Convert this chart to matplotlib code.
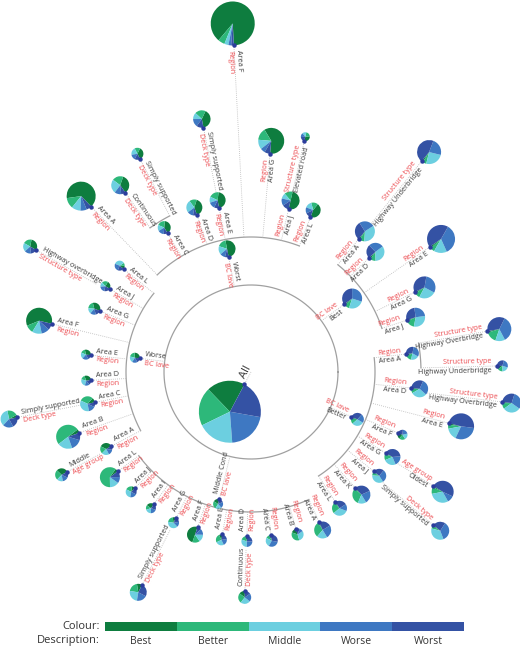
import numpy as np
import matplotlib.pyplot as plt

plt.rcParams['font.family'] = ['Open Sans', 'DejaVu Sans']

# ---- data -------------------------------------------------------------
class_names = ['Best', 'Better', 'Middle', 'Worse', 'Worst']
class_colors = ['#0e7d3f', '#2db87a', '#6ccfe0', '#3e78c2', '#3452a4']

labels = ['All',
          'Worst', 'Worse', 'Middle Cond', 'Better', 'Best',
          # under Worst
          'Area A', 'Area C', 'Continuous', 'Simply supported', 'Area D', 'Area E',
          'Simply supported', 'Area F', 'Area G', 'Area J', 'Elevated road', 'Area L',
          # under Worse
          'Area L', 'Area J', 'Highway overbridge', 'Area G', 'Area F', 'Area E',
          'Area D', 'Area C', 'Simply supported', 'Area B', 'Area A', 'Middle',
          # under Middle Cond
          'Area L', 'Area J', 'Area I', 'Area G', 'Simply supported', 'Area F',
          'Area E', 'Area D', 'Continuous', 'Area C', 'Area B', 'Area A',
          # under Better
          'Area A', 'Highway Overbridge', 'Highway Underbridge', 'Area D',
          'Highway Overbridge', 'Area E', 'Area F', 'Area G', 'Oldest', 'Area J',
          'Simply supported', 'Area K', 'Area L',
          # under Best
          'Area A', 'Highway Underbridge', 'Area D', 'Area E', 'Area G', 'Area J']

fields = ['',
          'BC lave', 'BC lave', 'BC lave', 'BC lave', 'BC lave',
          'Region', 'Region', 'Deck type', 'Deck type', 'Region', 'Region',
          'Deck type', 'Region', 'Region', 'Region', 'Structure type', 'Region',
          'Region', 'Region', 'Structure type', 'Region', 'Region', 'Region',
          'Region', 'Region', 'Deck type', 'Region', 'Region', 'Age group',
          'Region', 'Region', 'Region', 'Region', 'Deck type', 'Region',
          'Region', 'Region', 'Deck type', 'Region', 'Region', 'Region',
          'Region', 'Structure type', 'Structure type', 'Region',
          'Structure type', 'Region', 'Region', 'Region', 'Age group', 'Region',
          'Deck type', 'Region', 'Region',
          'Region', 'Structure type', 'Region', 'Region', 'Region', 'Region']

parents = [-1,
           0, 0, 0, 0, 0,
           1, 1, 7, 7, 1, 1, 11, 1, 1, 1, 15, 1,
           2, 2, 19, 2, 2, 2, 2, 2, 25, 2, 2, 28,
           3, 3, 3, 3, 33, 3, 3, 3, 37, 3, 3, 3,
           4, 42, 42, 4, 45, 4, 4, 4, 49, 4, 51, 4, 4,
           5, 55, 5, 5, 5, 5]

counts = [961,
          72, 25, 25, 42, 100,
          210, 42, 81, 36, 64, 64, 76, 484, 169, 81, 20, 56,
          25, 25, 49, 36, 169, 25, 25, 56, 72, 144, 36, 42,
          100, 30, 25, 30, 72, 64, 30, 30, 42, 36, 36, 72,
          42, 144, 30, 72, 90, 169, 25, 64, 121, 49, 81, 81, 56,
          100, 144, 81, 196, 121, 90]

best = [20,
        50, 28, 20, 3, 2,
        65, 40, 35, 35, 40, 45, 40, 88, 60, 50, 30, 45,
        10, 25, 30, 35, 60, 30, 30, 10, 5, 5, 35, 30,
        5, 10, 25, 10, 10, 50, 10, 5, 15, 5, 15, 2,
        5, 2, 10, 2, 2, 2, 20, 2, 2, 2, 2, 2, 2,
        2, 2, 3, 2, 2, 2]
better = [20,
          17, 20, 25, 15, 8,
          12, 20, 20, 15, 15, 20, 20, 5, 15, 15, 20, 15,
          10, 20, 20, 20, 10, 15, 15, 30, 20, 50, 20, 25,
          60, 20, 15, 20, 20, 15, 25, 15, 25, 10, 35, 30,
          15, 15, 15, 8, 10, 5, 20, 13, 10, 8, 5, 30, 25,
          8, 5, 10, 5, 8, 15]
middle = [19,
          16, 20, 20, 30, 25,
          10, 15, 25, 20, 25, 12, 12, 3, 12, 10, 15, 15,
          35, 15, 20, 15, 12, 20, 25, 35, 35, 20, 20, 15,
          15, 30, 20, 40, 25, 15, 25, 30, 25, 25, 30, 20,
          20, 13, 20, 30, 30, 15, 20, 25, 30, 35, 35, 15, 33,
          35, 25, 35, 15, 25, 30]
worse = [21,
         10, 17, 20, 22, 30,
         7, 15, 12, 15, 12, 13, 15, 2, 6, 13, 15, 13,
         25, 20, 15, 15, 10, 20, 15, 15, 20, 15, 15, 15,
         10, 20, 20, 15, 20, 12, 20, 25, 20, 30, 10, 25,
         30, 35, 25, 30, 30, 30, 20, 20, 10, 30, 35, 23, 15,
         25, 23, 27, 35, 30, 25]
worst = [20,
         7, 15, 15, 30, 35,
         6, 10, 8, 15, 8, 10, 13, 2, 7, 12, 20, 12,
         20, 20, 15, 15, 8, 15, 15, 10, 20, 10, 10, 15,
         10, 20, 20, 15, 25, 8, 20, 25, 15, 30, 10, 23,
         30, 35, 30, 30, 28, 48, 20, 40, 48, 25, 23, 30, 25,
         30, 45, 25, 43, 35, 28]

# ---- layout (angle in degrees, radius in px from the centre) ----------
angles = [-118,
          101, 173, -104, -24, 36,
          134, 121, 125, 117.5, 109, 101, 101, 93, 85, 77, 77, 69,
          141, 149.5, 150.4, 158, 166.4, 174, 183, 191, 191, 199.5, 208, 208.5,
          216.7, 225, 233.7, 242.8, 242.9, 251, 260, 268.6, 268.4, 277, 286, 294.4,
          6.6, 9.8, 1.4, -5.7, -6.8, -14.5, -22.5, -31, -32, -39, -40, -48, -57,
          51, 51, 44, 35, 26, 18.4]
radii = [14,
         117, 112, 131, 110, 115,
         230, 162, 219, 240, 166, 167, 249, 327, 219, 167, 237, 166,
         164, 164, 247, 163, 205, 161, 160, 159, 238, 182, 158, 209,
         166, 164, 164, 164, 239, 164, 165, 164, 219, 164, 163, 165,
         156, 240, 246, 161, 253, 204, 159, 157, 215, 158, 238, 156, 155,
         171, 271, 164, 218, 182, 164]
arc_radius = {0: 87, 1: 135, 2: 125, 3: 140, 4: 124, 5: 138}

red = '#ec4b50'
dark = '#3a3a3a'
dot_color = '#2c3d9c'

fig = plt.figure(figsize=(5.2, 6.46), dpi=100)
ax = fig.add_axes([0, 0, 1, 1])
ax.set_xlim(-251, 269)
ax.set_ylim(-274, 372)
ax.set_aspect('equal')
ax.axis('off')

n = len(labels)
children = {i: [j for j in range(n) if parents[j] == i] for i in range(n)}


def polar(r, a):
    t = np.deg2rad(a)
    return r * np.cos(t), r * np.sin(t)


def child_arc(p):
    if p in arc_radius:
        return arc_radius[p]
    return radii[p] + 14


# arcs joining the children of each node
for p, kids in children.items():
    if not kids:
        continue
    ra = child_arc(p)
    if p == 0:
        t = np.linspace(0, 360, 400)
    elif len(kids) > 1:
        ka = [angles[k] for k in kids]
        t = np.linspace(min(ka), max(ka), 100)
    else:
        continue
    x, y = polar(ra, t)
    ax.plot(x, y, color='#a0a0a0', lw=0.9, zorder=1)

# dotted links
for i in range(n):
    r0 = 0 if parents[i] < 0 else child_arc(parents[i])
    x0, y0 = polar(r0, angles[i])
    x1, y1 = polar(radii[i], angles[i])
    ax.plot([x0, x1], [y0, y1], color='#b8b8b8', lw=0.6,
            dashes=(1, 1.5), zorder=1)

# pies, dots, labels
for i in range(n):
    vals = [best[i], better[i], middle[i], worse[i], worst[i]]
    pr = np.sqrt(counts[i])
    cx, cy = polar(radii[i] + pr, angles[i])
    ax.pie(vals, colors=class_colors, radius=pr, center=(cx, cy),
           startangle=angles[i] + 180, counterclock=True, frame=True,
           wedgeprops=dict(linewidth=0))
    dx, dy = polar(radii[i], angles[i])
    ax.plot(dx, dy, 'o', ms=3.2, color=dot_color, mec='none', zorder=6)

    a = np.deg2rad(angles[i])
    px, py = polar(radii[i] - 5, angles[i])
    tx, ty = -np.sin(a), np.cos(a)
    if np.cos(a) >= 0:
        rot, ha = angles[i], 'right'
    else:
        rot, ha = angles[i] - 180, 'left'
    fs = 8 if i == 0 else 5.2
    off = 5 if i == 0 else 4.3
    ax.text(px - tx * off, py - ty * off, labels[i], color=dark, fontsize=fs,
            rotation=rot, rotation_mode='anchor', ha=ha, va='center', zorder=7)
    if fields[i]:
        ax.text(px + tx * off, py + ty * off, fields[i], color=red, fontsize=fs,
                rotation=rot, rotation_mode='anchor', ha=ha, va='center', zorder=7)

ax.set_xlim(-251, 269)
ax.set_ylim(-274, 372)

# legend
lax = fig.add_axes([105 / 520, (646 - 631) / 646, 359 / 520, 9 / 646])
lax.barh([0] * 5, [1] * 5, left=list(range(5)), color=class_colors, height=1)
lax.set_xlim(0, 5)
lax.set_ylim(-0.5, 0.5)
lax.axis('off')
for k, name in enumerate(class_names):
    lax.text(k + 0.5, -1.65, name, ha='center', va='center', fontsize=7.5,
             color='#333333')
fig.text(100 / 520, 1 - 626.5 / 646, 'Colour:', ha='right', va='center',
         fontsize=8, color='#333333')
fig.text(100 / 520, 1 - 641 / 646, 'Description:', ha='right', va='center',
         fontsize=8, color='#333333')

fig.savefig('out.png', dpi=100)
